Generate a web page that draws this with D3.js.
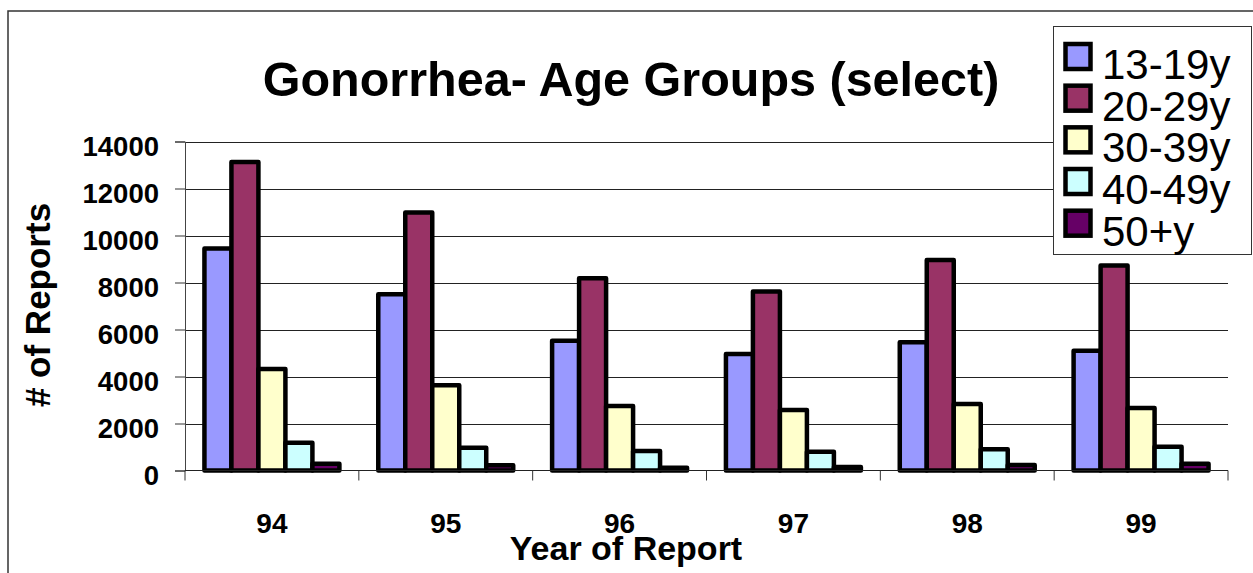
<!DOCTYPE html>
<html>
<head>
<meta charset="utf-8">
<script src="https://cdn.jsdelivr.net/npm/d3@7"></script>
<style>
  body { margin: 0; background: #fff; }
  text { font-family: "Liberation Sans", Arial, sans-serif; }
</style>
</head>
<body>
<script>
// chart data
var years = ["94", "95", "96", "97", "98", "99"];
var ageGroups = ["13-19y", "20-29y", "30-39y", "40-49y", "50+y"];
var reports13to19 = [9450, 7500, 5520, 4960, 5460, 5100];
var reports20to29 = [13130, 10980, 8180, 7620, 8960, 8720];
var reports30to39 = [4320, 3630, 2740, 2570, 2830, 2660];
var reports40to49 = [1180, 970, 830, 800, 900, 1010];
var reports50plus = [290, 220, 120, 150, 230, 290];
var yTicks = [0, 2000, 4000, 6000, 8000, 10000, 12000, 14000];

var width = 1253,
    height = 573;

var svg = d3.select("body").append("svg")
    .attr("width", width)
    .attr("height", height);

// outer chart frame (only top and left edges are visible)
svg.append("rect")
    .attr("x", 8)
    .attr("y", 11)
    .attr("width", 1260)
    .attr("height", 600)
    .attr("fill", "#fff")
    .attr("stroke", "#333")
    .attr("stroke-width", 1.5);

var plotLeft = 185, plotRight = 1228, plotTop = 141.5, plotBottom = 470.5;

var color = d3.scaleOrdinal()
    .domain(ageGroups)
    .range(["#9999ff", "#993366", "#ffffcc", "#ccffff", "#660066"]);

var x0 = d3.scaleBand()
    .domain(years)
    .range([plotLeft, plotRight]);

var x1 = d3.scaleBand()
    .domain(ageGroups)
    .range([0, x0.bandwidth()])
    .paddingOuter(0.72);

var y = d3.scaleLinear()
    .domain([0, 14000])
    .range([plotBottom, plotTop]);

// build rows from the series
var series = [reports13to19, reports20to29, reports30to39, reports40to49, reports50plus];
var rows = years.map(function(yr, i) {
    return ageGroups.map(function(g, j) { return {year: yr, group: g, value: series[j][i]}; });
});

// gridlines
svg.append("g")
    .selectAll("line")
    .data(yTicks.slice(1))
    .enter().append("line")
    .attr("x1", plotLeft)
    .attr("x2", plotRight)
    .attr("y1", function(d) { return Math.round(y(d)) + 0.5; })
    .attr("y2", function(d) { return Math.round(y(d)) + 0.5; })
    .attr("stroke", "#222")
    .attr("stroke-width", 1);

// y axis
var yAxis = svg.append("g")
    .attr("transform", "translate(" + plotLeft + ",0)")
    .call(d3.axisLeft(y).tickValues(yTicks).tickSize(10).tickPadding(16).tickFormat(d3.format("d")));
yAxis.select(".domain").attr("stroke", "#444");
yAxis.selectAll(".tick line").attr("stroke", "#333");
yAxis.selectAll("text")
    .attr("font-size", 27.5)
    .attr("font-weight", "bold")
    .attr("font-family", "'Liberation Sans', Arial, sans-serif")
    .attr("fill", "#000")
    .attr("dy", "0.5em");

// bars
svg.append("g")
    .selectAll("g")
    .data(rows)
    .enter().append("g")
    .attr("transform", function(d) { return "translate(" + x0(d[0].year) + ",0)"; })
    .selectAll("rect")
    .data(function(d) { return d; })
    .enter().append("rect")
    .attr("x", function(d) { return x1(d.group); })
    .attr("y", function(d) { return y(d.value); })
    .attr("width", x1.bandwidth())
    .attr("height", function(d) { return y(0) - y(d.value); })
    .attr("fill", function(d) { return color(d.group); })
    .attr("stroke", "#000")
    .attr("stroke-width", 4.5)
    .attr("stroke-linejoin", "round");

// x axis
var xAxis = svg.append("g")
    .attr("transform", "translate(0," + plotBottom + ")");
xAxis.append("line")
    .attr("x1", plotLeft)
    .attr("x2", plotRight)
    .attr("stroke", "#222");
xAxis.selectAll(".cat-tick")
    .data(years.concat(["end"]))
    .enter().append("line")
    .attr("class", "cat-tick")
    .attr("x1", function(d, i) { return plotLeft + i * x0.step(); })
    .attr("x2", function(d, i) { return plotLeft + i * x0.step(); })
    .attr("y1", 0)
    .attr("y2", 10)
    .attr("stroke", "#333");
xAxis.selectAll("text")
    .data(years)
    .enter().append("text")
    .attr("x", function(d) { return x0(d) + x0.bandwidth() / 2; })
    .attr("y", 62)
    .attr("text-anchor", "middle")
    .attr("font-size", 28)
    .attr("font-weight", "bold")
    .text(function(d) { return d; });

// axis titles
svg.append("text")
    .attr("x", 626)
    .attr("y", 560)
    .attr("text-anchor", "middle")
    .attr("font-size", 34)
    .attr("font-weight", "bold")
    .text("Year of Report");

svg.append("text")
    .attr("transform", "translate(50,305) rotate(-90)")
    .attr("text-anchor", "middle")
    .attr("font-size", 35)
    .attr("font-weight", "bold")
    .text("# of Reports");

// title
svg.append("text")
    .attr("x", 631)
    .attr("y", 96)
    .attr("text-anchor", "middle")
    .attr("font-size", 48.5)
    .attr("font-weight", "bold")
    .text("Gonorrhea- Age Groups (select)");

// legend
var legend = svg.append("g")
    .attr("transform", "translate(1053,26)");
legend.append("rect")
    .attr("x", 0.5)
    .attr("y", 0.5)
    .attr("width", 198)
    .attr("height", 228)
    .attr("fill", "#fff")
    .attr("stroke", "#333")
    .attr("stroke-width", 1);
var item = legend.selectAll(".item")
    .data(ageGroups)
    .enter().append("g")
    .attr("class", "item")
    .attr("transform", function(d, i) { return "translate(0," + (i * 41.67) + ")"; });
item.append("rect")
    .attr("x", 12.5)
    .attr("y", 18)
    .attr("width", 25)
    .attr("height", 25)
    .attr("fill", function(d) { return color(d); })
    .attr("stroke", "#000")
    .attr("stroke-width", 4.5);
item.append("text")
    .attr("x", 49)
    .attr("y", 53)
    .attr("font-size", 42)
    .attr("fill", "#000")
    .text(function(d) { return d; });
</script>
</body>
</html>
